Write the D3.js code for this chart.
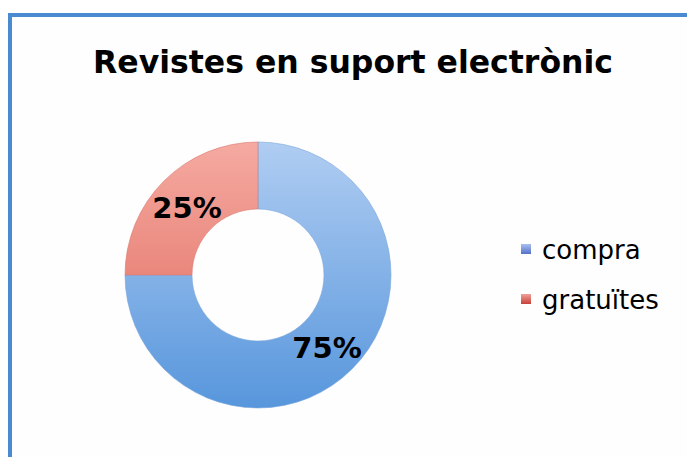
<!DOCTYPE html>
<html><head><meta charset="utf-8">
<script src="https://cdn.jsdelivr.net/npm/d3@7"></script>
<style>html,body{margin:0;padding:0;background:#fff;}svg{display:block;}</style>
</head><body>
<svg id="chart" width="687" height="457"></svg>
<script>
const categories = ["compra", "gratuïtes"];
const values = [75, 25];
const labels = ["75%", "25%"];
const title = "Revistes en suport electrònic";

const W = 687, H = 457;
const svg = d3.select("#chart");
const defs = svg.append("defs");

// background + frame
svg.append("rect").attr("width", W).attr("height", H).attr("fill", "#fff");
svg.append("rect").attr("x", 10).attr("y", 15).attr("width", W + 20).attr("height", H + 20)
  .attr("fill", "#fefefe").attr("stroke", "#4a8ad0").attr("stroke-width", 4);

svg.append("text").attr("x", 353).attr("y", 73).attr("text-anchor", "middle")
  .attr("font-family", "DejaVu Sans").attr("font-weight", "bold").attr("font-size", 31.5)
  .attr("fill", "#000").text(title);

const cx = 258, cy = 275, rOuter = 133, rInner = 66;
const grads = [["#b0cdf2", "#5796dc"], ["#f5aaa1", "#df6458"]];
grads.forEach((g, i) => {
  const lg = defs.append("linearGradient").attr("id", "g" + i)
    .attr("gradientUnits", "userSpaceOnUse")
    .attr("x1", 0).attr("y1", -rOuter).attr("x2", 0).attr("y2", rOuter);
  lg.append("stop").attr("offset", 0).attr("stop-color", g[0]);
  lg.append("stop").attr("offset", 1).attr("stop-color", g[1]);
});

const color = d3.scaleOrdinal().domain(categories).range(["url(#g0)", "url(#g1)"]);
const pie = d3.pie().sort(null).value(d => d);
const arcs = pie(values);
const arc = d3.arc().innerRadius(rInner).outerRadius(rOuter);
const g = svg.append("g").attr("transform", `translate(${cx},${cy})`);
g.selectAll("path").data(arcs).join("path")
  .attr("d", arc).attr("fill", (d, i) => color(categories[i]))
  .attr("stroke", (d, i) => i === 0 ? "#7aa6da" : "#d87a70").attr("stroke-width", 0.6);

// label positions (Excel-like placement)
const labelPos = [[69, 73], [-71, -67]];
g.selectAll("text.lbl").data(arcs).join("text").attr("class", "lbl")
  .attr("x", (d, i) => labelPos[i][0]).attr("y", (d, i) => labelPos[i][1])
  .attr("text-anchor", "middle").attr("dominant-baseline", "central")
  .attr("font-family", "DejaVu Sans").attr("font-weight", "bold").attr("font-size", 29)
  .attr("fill", "#000").text((d, i) => labels[i]);

// legend
const leg = svg.append("g").attr("transform", "translate(521,244)");
const legGrads = [["#a8bff0", "#5470c8"], ["#f0a09a", "#c8403a"]];
categories.forEach((c, i) => {
  const lg = defs.append("linearGradient").attr("id", "lg" + i).attr("x1", 0).attr("y1", 0).attr("x2", 0).attr("y2", 1);
  lg.append("stop").attr("offset", 0).attr("stop-color", legGrads[i][0]);
  lg.append("stop").attr("offset", 1).attr("stop-color", legGrads[i][1]);
  const row = leg.append("g").attr("transform", `translate(0,${i * 50})`);
  row.append("rect").attr("width", 10).attr("height", 10).attr("fill", `url(#lg${i})`);
  row.append("text").attr("x", 21).attr("y", 6).attr("dominant-baseline", "central")
    .attr("font-family", "DejaVu Sans").attr("font-size", 26).attr("fill", "#000").text(c);
});
</script>
</body></html>
